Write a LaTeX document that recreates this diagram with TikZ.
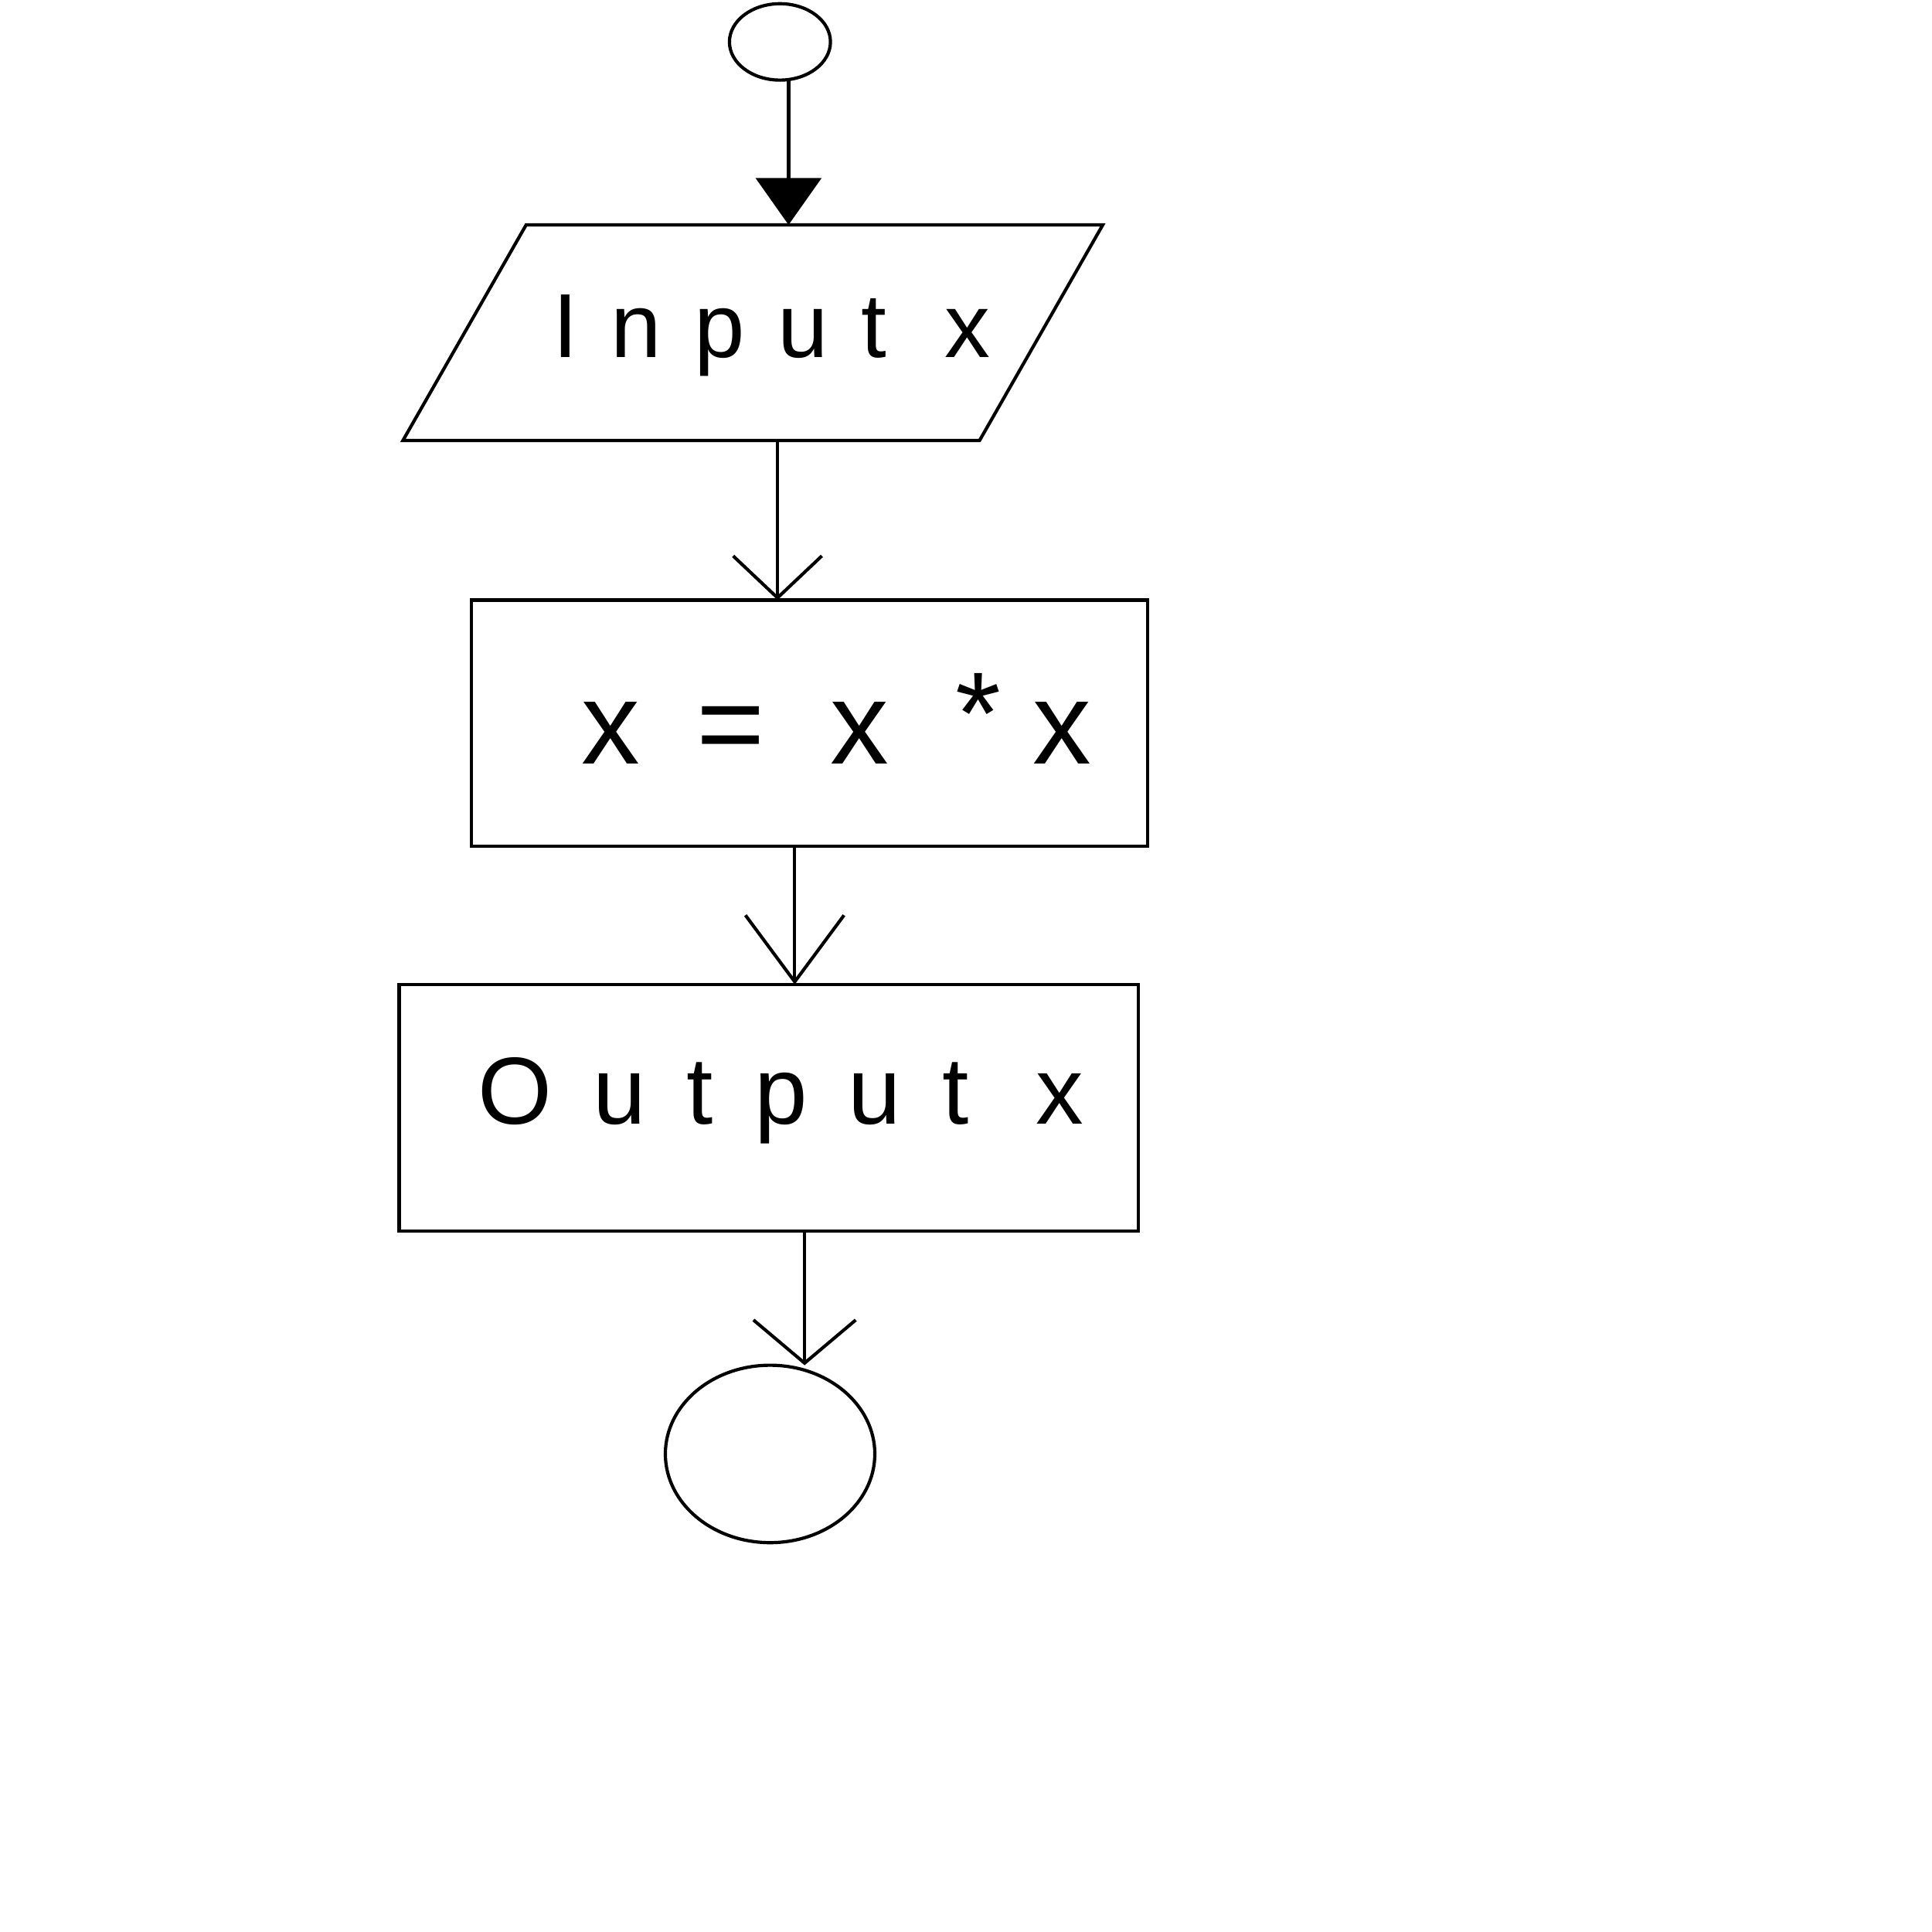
\documentclass[tikz,border=0pt]{standalone}
\usepackage{fontspec}
\setmainfont{Liberation Sans}
\usetikzlibrary{shapes.geometric,arrows.meta}
\begin{document}
\begin{tikzpicture}[x=0.1mm,y=-0.1mm,line width=0.75pt,
  blk/.style={draw,inner sep=2pt,outer sep=0pt},
  lbl/.style={inner sep=0pt,outer sep=0pt,anchor=base west}]
\useasboundingbox (0,0) rectangle (1568,1568);

% terminals and process blocks
\node[blk,ellipse,minimum width=8.2mm,minimum height=6.2mm] (start) at (633,34) {};
% input block: a slanted parallelogram drawn around an invisible body box
\node[inner sep=0pt,outer sep=0pt,minimum width=46.8mm,minimum height=17.5mm] (in) at (611,270) {};
\draw ([xshift=5mm]in.north west) -- ([xshift=5mm]in.north east)
   -- ([xshift=-5mm]in.south east) -- ([xshift=-5mm]in.south west) -- cycle;
\node[blk,rectangle,minimum width=54.9mm,minimum height=20mm] (calc) at (657,587) {};
\node[blk,rectangle,minimum width=60mm,minimum height=20mm] (out) at (624,899) {};
\node[blk,ellipse,minimum width=17mm,minimum height=14.4mm] (stop) at (625,1180) {};

% block texts
\node[lbl,font=\fontsize{21}{24}\selectfont\addfontfeature{LetterSpace=36}] (inT) at (449,290) {Input x};
\node[lbl,font=\fontsize{27}{30}\selectfont] (calcT) at (472,620)
  {x\hspace{4.6mm}=\hspace{5.3mm}x\hspace{5.4mm}\raisebox{0.8mm}{*}\hspace{2.6mm}x};
\node[lbl,font=\fontsize{22}{25}\selectfont\addfontfeature{LetterSpace=43}] (outT) at (388,912) {Output x};

% connector columns
\coordinate (c1) at (640,0);
\coordinate (c2) at (631,0);
\coordinate (c3) at (645,0);
\coordinate (c4) at (653,0);

\draw[-{Triangle[width=5.3mm,length=3.8mm]}] (start.south -| c1) -- (in.north -| c1);
\draw[-{Straight Barb[width=7.2mm,length=3.4mm]}] (in.south -| c2) -- (calc.north -| c2);
\draw[-{Straight Barb[width=8mm,length=5.4mm]}] (calc.south -| c3) -- (out.north -| c3);
\draw[-{Straight Barb[width=8.3mm,length=3.5mm]}] (out.south -| c4) -- (stop.north -| c4);
\end{tikzpicture}
\end{document}
